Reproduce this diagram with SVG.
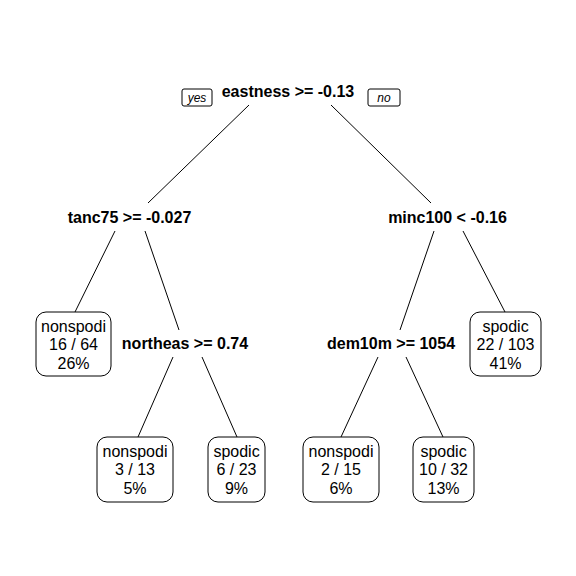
<svg xmlns="http://www.w3.org/2000/svg" width="576" height="576" viewBox="0 0 576 576">
<style>
.split{font-family:"Liberation Sans",Arial,sans-serif;font-size:16px;font-weight:bold;text-anchor:middle;fill:#000}
.leaf rect{fill:#fff;stroke:#000;stroke-width:1}
.leaf text{font-family:"Liberation Sans",Arial,sans-serif;font-size:16px;text-anchor:middle;fill:#000}
.yn rect{fill:#fff;stroke:#000;stroke-width:1}
.yn text{font-family:"Liberation Sans",Arial,sans-serif;font-size:12px;font-style:italic;text-anchor:middle;fill:#000}
#connectors line{stroke:#000;stroke-width:1}
</style>
<rect width="576" height="576" fill="#fff"/>
<g id="connectors">
<line x1="249" y1="105" x2="148" y2="203"/>
<line x1="331" y1="105" x2="431" y2="203"/>
<line x1="115" y1="231" x2="75" y2="312"/>
<line x1="145" y1="231" x2="179" y2="330"/>
<line x1="434" y1="231" x2="400" y2="330"/>
<line x1="463" y1="231" x2="505" y2="312"/>
<line x1="173" y1="357" x2="138" y2="437"/>
<line x1="202" y1="357" x2="237" y2="437"/>
<line x1="378" y1="357" x2="341" y2="437"/>
<line x1="406" y1="357" x2="443" y2="437"/>
</g>
<g id="yes" class="yn"><rect x="182" y="89" width="30" height="17" rx="2"/><text x="197" y="102">yes</text></g>
<g id="no" class="yn"><rect x="368" y="89" width="32" height="17" rx="2"/><text x="384" y="102">no</text></g>
<g id="n1"><text class="split" x="288" y="97">eastness &gt;= -0.13</text></g>
<g id="n2"><text class="split" x="129.5" y="223">tanc75 &gt;= -0.027</text></g>
<g id="n3"><text class="split" x="447.5" y="223">minc100 &lt; -0.16</text></g>
<g id="n5"><text class="split" x="185" y="349">northeas &gt;= 0.74</text></g>
<g id="n6"><text class="split" x="391" y="349">dem10m &gt;= 1054</text></g>
<g id="l1" class="leaf"><rect x="36" y="312" width="75" height="64" rx="10"/><text x="73.5" y="332">nonspodi</text><text x="73.5" y="350">16 / 64</text><text x="73.5" y="369">26%</text></g>
<g id="l2" class="leaf"><rect x="97" y="437" width="76" height="65" rx="10"/><text x="135" y="457">nonspodi</text><text x="135" y="475">3 / 13</text><text x="135" y="494">5%</text></g>
<g id="l3" class="leaf"><rect x="208" y="437" width="57" height="65" rx="10"/><text x="236.5" y="457">spodic</text><text x="236.5" y="475">6 / 23</text><text x="236.5" y="494">9%</text></g>
<g id="l4" class="leaf"><rect x="303" y="437" width="76" height="65" rx="10"/><text x="341" y="457">nonspodi</text><text x="341" y="475">2 / 15</text><text x="341" y="494">6%</text></g>
<g id="l5" class="leaf"><rect x="413" y="437" width="61" height="65" rx="10"/><text x="443.5" y="457">spodic</text><text x="443.5" y="475">10 / 32</text><text x="443.5" y="494">13%</text></g>
<g id="l6" class="leaf"><rect x="470" y="312" width="71" height="64" rx="10"/><text x="505.5" y="332">spodic</text><text x="505.5" y="350">22 / 103</text><text x="505.5" y="369">41%</text></g>
</svg>
